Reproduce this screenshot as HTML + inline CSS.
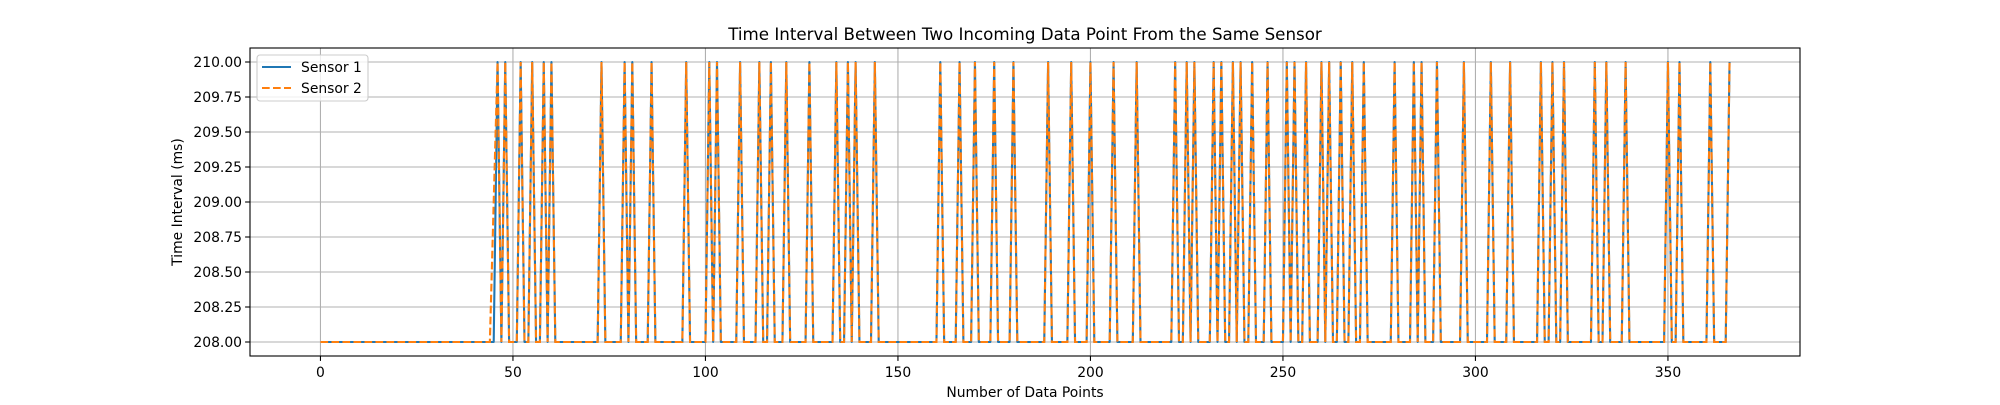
<!DOCTYPE html>
<html><head><meta charset="utf-8"><style>
html,body{margin:0;padding:0;background:#fff}
svg text{font-family:"DejaVu Sans","Liberation Sans",sans-serif;fill:#000}
</style></head><body>
<svg id="chart" width="2000" height="400" viewBox="0 0 2000 400" xmlns="http://www.w3.org/2000/svg">
<rect width="2000" height="400" fill="#fff"/>
<text x="1025" y="40" font-size="16.7" text-anchor="middle">Time Interval Between Two Incoming Data Point From the Same Sensor</text>
<g id="grid"></g><g id="ticks"></g><g id="lines"></g>
<rect x="250" y="48" width="1550" height="308" fill="none" stroke="#000" stroke-width="1.1"/>
<text x="1025" y="397" font-size="13.9" text-anchor="middle">Number of Data Points</text>
<text transform="translate(182,202) rotate(-90)" font-size="13.9" text-anchor="middle">Time Interval (ms)</text>
<g>
<rect x="257" y="55" width="111" height="46" rx="3" fill="#fff" fill-opacity="0.8" stroke="#ccc" stroke-width="1.1"/>
<line x1="262" y1="67" x2="291" y2="67" stroke="#1f77b4" stroke-width="2.1"/>
<text x="301" y="72" font-size="13.9">Sensor 1</text>
<line x1="262" y1="88" x2="291" y2="88" stroke="#ff7f0e" stroke-width="2.1" stroke-dasharray="7.7,3.3"/>
<text x="301" y="93" font-size="13.9">Sensor 2</text>
</g>
</svg>
<script>
const sensor1 = [
208,208,208,208,208,208,208,208,208,208,
208,208,208,208,208,208,208,208,208,208,
208,208,208,208,208,208,208,208,208,208,
208,208,208,208,208,208,208,208,208,208,
208,208,208,208,208,208,210,208,210,208,
208,208,210,208,208,210,208,208,210,208,
210,208,208,208,208,208,208,208,208,208,
208,208,208,210,208,208,208,208,208,210,
208,210,208,208,208,208,210,208,208,208,
208,208,208,208,208,210,208,208,208,208,
208,210,208,210,208,208,208,208,208,210,
208,208,208,208,210,208,208,210,208,208,
208,210,208,208,208,208,208,210,208,208,
208,208,208,208,210,208,208,210,208,210,
208,208,208,208,210,208,208,208,208,208,
208,208,208,208,208,208,208,208,208,208,
208,210,208,208,208,208,210,208,208,208,
210,208,208,208,208,210,208,208,208,208,
210,208,208,208,208,208,208,208,208,210,
208,208,208,208,208,210,208,208,208,208,
210,208,208,208,208,208,210,208,208,208,
208,208,210,208,208,208,208,208,208,208,
208,208,210,208,208,210,208,210,208,208,
208,208,210,208,210,208,208,210,208,210,
208,208,210,208,208,208,210,208,208,208,
208,210,208,210,208,208,210,208,208,208,
210,208,210,208,208,210,208,208,210,208,
208,210,208,208,208,208,208,208,208,210,
208,208,208,208,210,208,210,208,208,208,
210,208,208,208,208,208,208,210,208,208,
208,208,208,208,210,208,208,208,208,210,
208,208,208,208,208,208,208,210,208,208,
210,208,208,210,208,208,208,208,208,208,
208,210,208,208,210,208,208,208,208,210,
208,208,208,208,208,208,208,208,208,208,
210,208,208,210,208,208,208,208,208,208,
208,210,208,208,208,208,210];
const sensor2 = [
208,208,208,208,208,208,208,208,208,208,
208,208,208,208,208,208,208,208,208,208,
208,208,208,208,208,208,208,208,208,208,
208,208,208,208,208,208,208,208,208,208,
208,208,208,208,208,209,210,208,210,208,
208,208,210,208,208,210,208,208,210,208,
210,208,208,208,208,208,208,208,208,208,
208,208,208,210,208,208,208,208,208,210,
208,210,208,208,208,208,210,208,208,208,
208,208,208,208,208,210,208,208,208,208,
208,210,208,210,208,208,208,208,208,210,
208,208,208,208,210,208,208,210,208,208,
208,210,208,208,208,208,208,210,208,208,
208,208,208,208,210,208,208,210,208,210,
208,208,208,208,210,208,208,208,208,208,
208,208,208,208,208,208,208,208,208,208,
208,210,208,208,208,208,210,208,208,208,
210,208,208,208,208,210,208,208,208,208,
210,208,208,208,208,208,208,208,208,210,
208,208,208,208,208,210,208,208,208,208,
210,208,208,208,208,208,210,208,208,208,
208,208,210,208,208,208,208,208,208,208,
208,208,210,208,208,210,208,210,208,208,
208,208,210,208,210,208,208,210,208,210,
208,208,210,208,208,208,210,208,208,208,
208,210,208,210,208,208,210,208,208,208,
210,208,210,208,208,210,208,208,210,208,
208,210,208,208,208,208,208,208,208,210,
208,208,208,208,210,208,210,208,208,208,
210,208,208,208,208,208,208,210,208,208,
208,208,208,208,210,208,208,208,208,210,
208,208,208,208,208,208,208,210,208,208,
210,208,208,210,208,208,208,208,208,208,
208,210,208,208,210,208,208,208,208,210,
208,208,208,208,208,208,208,208,208,208,
210,208,208,210,208,208,208,208,208,208,
208,210,208,208,208,208,210];
const xTicks = [0,50,100,150,200,250,300,350];
const yTicks = [208,208.25,208.5,208.75,209,209.25,209.5,209.75,210];
const yTickLabels = ["208.00","208.25","208.50","208.75","209.00","209.25","209.50","209.75","210.00"];

const NS = "http://www.w3.org/2000/svg";
const L = 250, R = 1800, T = 48, B = 356;
const n = Math.max(sensor1.length, sensor2.length) - 1;
const xPad = n * 0.05;
const allV = sensor1.concat(sensor2);
const yMin = Math.min(...allV), yMax = Math.max(...allV), yPad = (yMax - yMin) * 0.05;
function xs(v){ return L + (v + xPad) / (n + 2 * xPad) * (R - L); }
function ys(v){ return B - (v - (yMin - yPad)) / ((yMax + yPad) - (yMin - yPad)) * (B - T); }
function mk(tag, attrs){ const e = document.createElementNS(NS, tag); for (const k in attrs) e.setAttribute(k, attrs[k]); return e; }
const grid = document.getElementById('grid'), ticks = document.getElementById('ticks'), lines = document.getElementById('lines');

xTicks.forEach(function(t){
  const x = xs(t);
  const g = mk('line', {x1:x, y1:T, x2:x, y2:B, stroke:'#b0b0b0', 'stroke-width':1.1});
  
  
  grid.appendChild(g);
  const tk = mk('line', {x1:x, y1:B, x2:x, y2:B+4.9, stroke:'#000', 'stroke-width':1.1});
  
  
  ticks.appendChild(tk);
  const tx = mk('text', {x:x, y:B+21, 'font-size':13.9, 'text-anchor':'middle'});
  
  
  tx.textContent = String(t);
  ticks.appendChild(tx);
});
yTicks.forEach(function(t, i){
  const y = ys(t);
  const g = mk('line', {x1:L, y1:y, x2:R, y2:y, stroke:'#b0b0b0', 'stroke-width':1.1});
  
  
  grid.appendChild(g);
  const tk = mk('line', {x1:L-4.9, y1:y, x2:L, y2:y, stroke:'#000', 'stroke-width':1.1});
  
  
  ticks.appendChild(tk);
  const tx = mk('text', {x:L-8, y:y+5, 'font-size':13.9, 'text-anchor':'end'});
  
  
  tx.textContent = yTickLabels[i];
  ticks.appendChild(tx);
});
function pts(arr){ return arr.map(function(v, i){ return xs(i).toFixed(2) + ',' + ys(v).toFixed(2); }).join(' '); }
const l1 = mk('polyline', {points:pts(sensor1), fill:'none', stroke:'#1f77b4', 'stroke-width':2.1, 'stroke-linejoin':'round'});


lines.appendChild(l1);
const l2 = mk('polyline', {points:pts(sensor2), fill:'none', stroke:'#ff7f0e', 'stroke-width':2.1, 'stroke-dasharray':'7.7,3.3'});


lines.appendChild(l2);
</script>
</body></html>
